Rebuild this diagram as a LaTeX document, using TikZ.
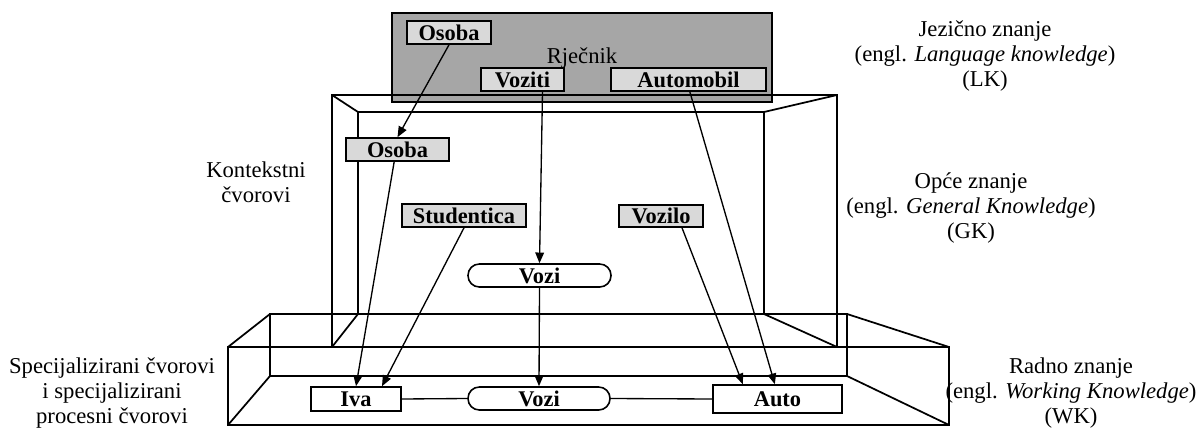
\documentclass[tikz,border=0pt]{standalone}
\usepackage{fontspec}
\setmainfont{Liberation Serif}
\usetikzlibrary{arrows.meta,calc}
\definecolor{lkfill}{HTML}{A6A6A6}
\definecolor{nodefill}{HTML}{D9D9D9}
\begin{document}
\begin{tikzpicture}[x=0.75pt,y=-0.75pt,
  wire/.style={line width=1.3pt, line join=miter},
  nbox/.style={draw, line width=1.2pt, inner sep=0pt, minimum height=17.25pt,
    font=\bfseries\fontsize{16.8}{19}\selectfont},
  gbox/.style={nbox, fill=nodefill},
  wbox/.style={nbox, fill=white},
  pbox/.style={nbox, fill=white, rounded corners=8.5pt},
  lbl/.style={align=center, inner sep=0pt, font=\fontsize{17}{19}\selectfont},
  arr/.style={line width=1pt, -{Triangle[length=8pt,width=6.5pt]}},
  link/.style={line width=1pt}
]
\useasboundingbox (0,0) rectangle (1202,428);

% Language knowledge (dictionary)
\draw[line width=1.3pt, fill=lkfill] (392,13) rectangle (772,102);
\node[lbl] (rj) at (582,58) {Rječnik};
\node[gbox, minimum width=63pt] (osobaT) at (449,32.5) {Osoba};
\node[gbox, minimum width=62.25pt] (voziti) at (522.5,79.5) {Voziti};
\node[gbox, minimum width=116.25pt] (automobil) at (688.5,79.5) {Automobil};

% General knowledge box
\draw[wire] (332,95) rectangle (837,347);
\draw[wire] (358,112) rectangle (764,314);
\draw[wire] (332,95) -- (358,112);
\draw[wire] (837,95) -- (764,112);
\draw[wire] (332,347) -- (358,314);
\draw[wire] (837,347) -- (764,314);

% Working knowledge box
\draw[wire] (228,347) rectangle (949,425);
\draw[wire] (270,314) rectangle (847,376);
\draw[wire] (228,347) -- (270,314);
\draw[wire] (949,347) -- (847,314);
\draw[wire] (228,425) -- (270,376);
\draw[wire] (949,425) -- (847,376);

% GK nodes
\node[gbox, minimum width=77.25pt] (osobaG) at (397.5,149.5) {Osoba};
\node[gbox, minimum width=93pt] (studentica) at (464,215.5) {Studentica};
\node[gbox, minimum width=63pt, minimum height=16.5pt] (vozilo) at (661,216) {Vozilo};
\node[pbox, minimum width=107.25pt] (voziG) at (539.5,275.5) {Vozi};

% WK nodes
\node[wbox, minimum width=67.5pt, minimum height=18pt] (iva) at (356,399) {Iva};
\node[pbox, minimum width=106.5pt] (voziW) at (539,398.5) {Vozi};
\node[wbox, minimum width=96.75pt, minimum height=21pt] (auto) at (777.5,399) {Auto};

% connectors
\draw[arr] (osobaT.south) -- (osobaG.north);
\draw[arr] ([xshift=15pt]voziti.south) -- (voziG.north);
\draw[arr] ([xshift=1pt]automobil.south) -- ([xshift=-2pt]auto.north);
\draw[arr] ([xshift=-2.5pt]osobaG.south) -- (iva.north);
\draw[arr] (studentica.south) -- ([xshift=19.5pt]iva.north);
\draw[arr] (voziG.south) -- (voziW.north);
\draw[arr] ([xshift=15.75pt]vozilo.south) -- ([xshift=-26pt]auto.north);
\draw[link] (iva.east) -- (voziW.west);
\draw[link] (voziW.east) -- (auto.west);

% labels
\node[lbl] (lk) at (985,56) {Jezično znanje\\(engl. \textit{Language knowledge})\\(LK)};
\node[lbl] (gk) at (971,208) {Opće znanje\\(engl. \textit{General Knowledge})\\(GK)};
\node[lbl] (wk) at (1071,393) {Radno znanje\\(engl. \textit{Working Knowledge})\\(WK)};
\node[lbl] (ctx) at (256,182) {Kontekstni\\čvorovi};
\node[lbl] (spec) at (112,393) {Specijalizirani čvorovi\\i specijalizirani\\procesni čvorovi};
\end{tikzpicture}
\end{document}
